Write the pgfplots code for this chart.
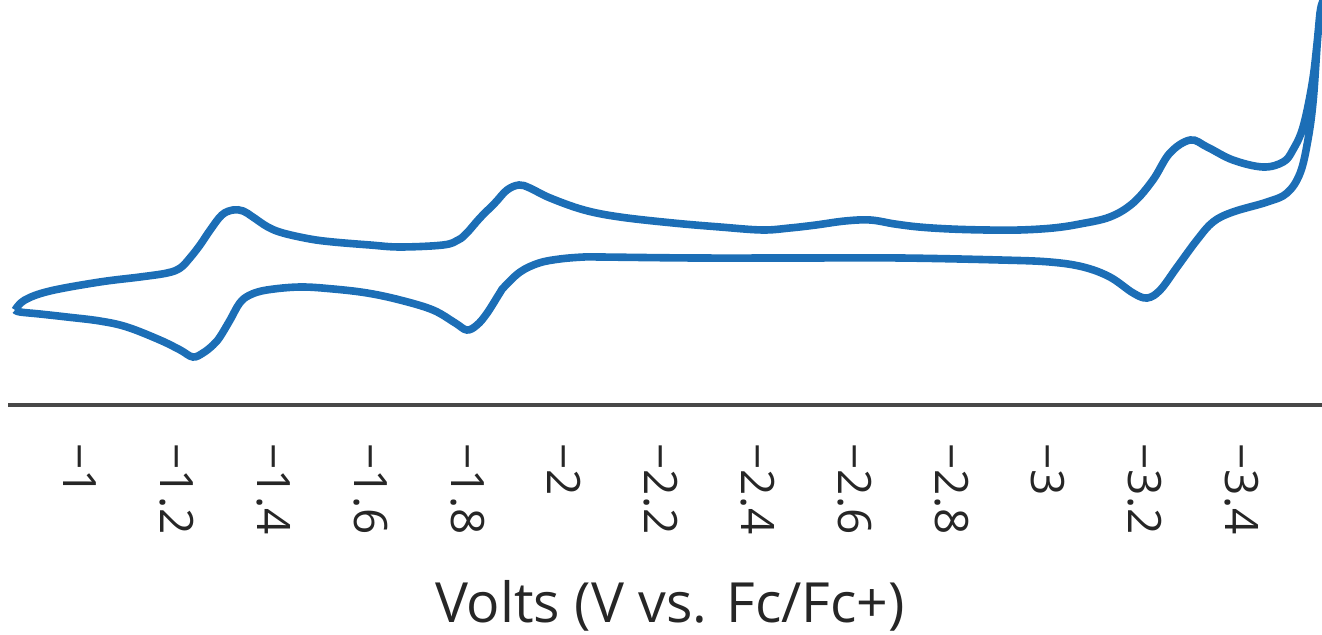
\documentclass[border=0pt]{standalone}
\usepackage{fontspec}
\setmainfont{Open Sans}
\usepackage{pgfplots}
\pgfplotsset{compat=1.18}
\definecolor{cvblue}{RGB}{28,110,182}
\definecolor{axgray}{RGB}{72,72,72}
\begin{document}
\begin{tikzpicture}
\begin{axis}[
  at={(0,0)}, anchor=south west,
  scale only axis,
  width=657pt, height=202.5pt,
  x dir=reverse,
  xmin=-3.5651, xmax=-0.8513,
  ymin=0, ymax=405,
  axis x line*=bottom,
  axis y line=none,
  x axis line style={-, draw=axgray, line width=1.7pt},
  major tick length=0pt,
  xtick={-1,-1.2,-1.4,-1.6,-1.8,-2,-2.2,-2.4,-2.6,-2.8,-3,-3.2,-3.4},
  xticklabels={−1,−1.2,−1.4,−1.6,−1.8,−2,−2.2,−2.4,−2.6,−2.8,−3,−3.2,−3.4},
  xticklabel style={rotate=-90, anchor=west, inner sep=0pt, font=\fontsize{23}{23}\selectfont, text=black!85},
  xticklabel shift=19pt,
  xlabel={Volts (V vs. Fc/Fc+)},
  every axis x label/.style={at={(axis description cs:0.5,0)}, anchor=base, yshift=-109pt, xshift=2.5pt, font=\fontsize{27.7}{28}\selectfont, text=black!85},
  clip=false,
]
\addplot[cvblue, line width=3.8pt, smooth, tension=0.6] coordinates {
(-0.866,95) (-0.886,105) (-0.938,114) (-1.041,123) (-1.124,128) (-1.180,132)
(-1.207,137) (-1.227,147) (-1.248,160) (-1.269,175) (-1.293,190) (-1.316,195)
(-1.337,194) (-1.357,188) (-1.388,178) (-1.419,172) (-1.475,166) (-1.523,163)
(-1.599,160) (-1.661,158) (-1.750,160) (-1.781,165) (-1.799,172) (-1.826,187)
(-1.857,202) (-1.882,215) (-1.907,220) (-1.929,217) (-1.971,207) (-2.041,195)
(-2.115,188) (-2.225,182) (-2.322,178) (-2.409,175) (-2.466,177) (-2.520,180)
(-2.580,184) (-2.632,185) (-2.683,181) (-2.733,178) (-2.797,176) (-2.871,175)
(-2.941,175) (-3.010,177) (-3.065,181) (-3.127,188) (-3.175,202) (-3.216,225)
(-3.251,252) (-3.293,265) (-3.328,258) (-3.381,245) (-3.443,238) (-3.485,243)
(-3.505,255) (-3.526,278) (-3.545,322) (-3.555,362) (-3.561,392) (-3.565,400)
(-3.557,372) (-3.547,305) (-3.536,265) (-3.520,232) (-3.493,212) (-3.452,203)
(-3.381,193) (-3.340,183) (-3.307,165) (-3.266,138) (-3.231,115) (-3.204,107)
(-3.175,112) (-3.127,128) (-3.072,138) (-3.003,143) (-2.900,145) (-2.694,147)
(-2.487,147) (-2.270,147) (-2.074,148) (-2.041,148) (-1.991,146) (-1.948,142)
(-1.909,133) (-1.876,118) (-1.867,112) (-1.841,92) (-1.820,80) (-1.799,75)
(-1.775,82) (-1.729,95) (-1.661,105) (-1.593,112) (-1.523,116) (-1.454,118)
(-1.386,115) (-1.351,110) (-1.330,102) (-1.310,85) (-1.289,68) (-1.275,60)
(-1.254,52) (-1.233,48) (-1.207,55) (-1.165,65) (-1.097,78) (-1.041,84)
(-0.973,88) (-0.917,91) (-0.876,93) (-0.866,95)
};
\end{axis}
\pgfresetboundingbox
\path[use as bounding box] (-4pt,-115pt) rectangle (657pt,202.5pt);
\end{tikzpicture}
\end{document}
